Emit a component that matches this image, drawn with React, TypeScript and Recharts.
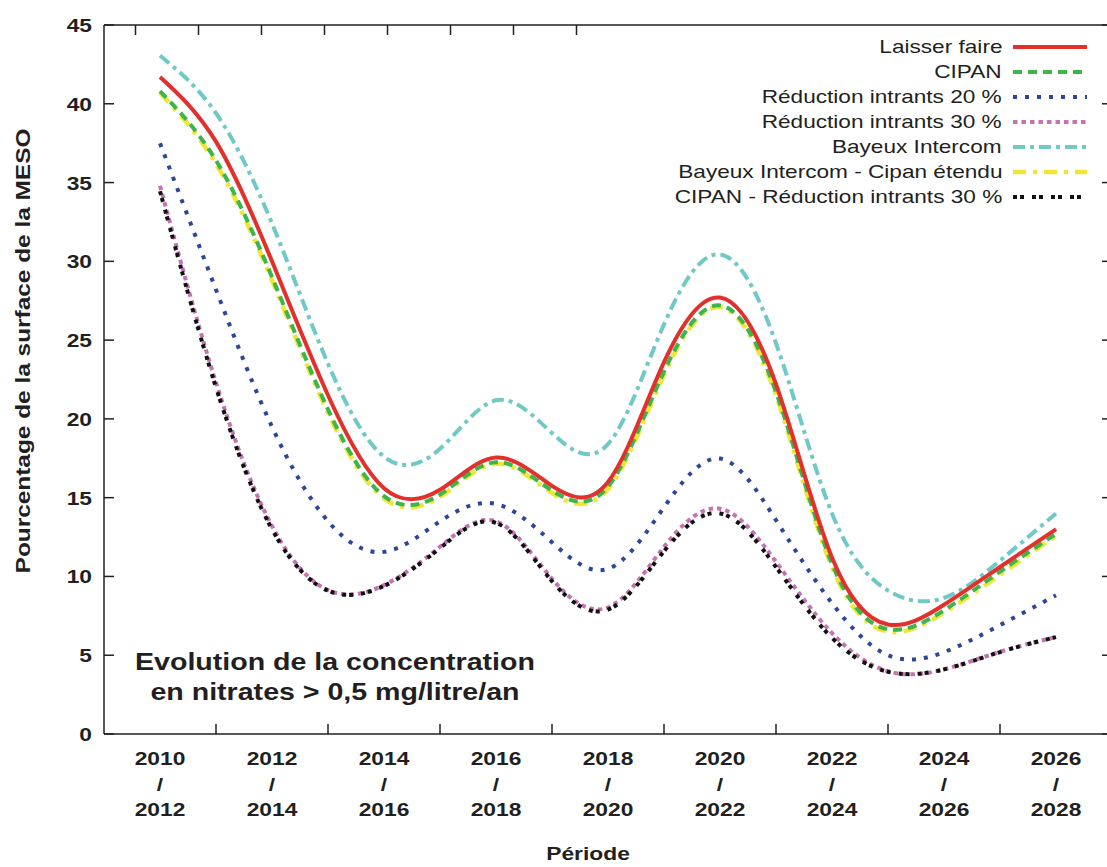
import React from 'react';
import { LineChart, Line, XAxis, YAxis, Legend } from 'recharts';

// x positions in period units (0 = 2010/2012 ... 8 = 2026/2028), read every half period
const xPositions = [0, 0.5, 1, 1.5, 2, 2.5, 3, 3.5, 4, 4.5, 5, 5.5, 6, 6.5, 7, 7.5, 8];
const periodStart = ['2010', '2012', '2014', '2016', '2018', '2020', '2022', '2024', '2026'];
const periodEnd = ['2012', '2014', '2016', '2018', '2020', '2022', '2024', '2026', '2028'];
const yTicks = [0, 5, 10, 15, 20, 25, 30, 35, 40, 45];
const bottomTicks = [0, 0.5, 1, 1.5, 2, 2.5, 3, 3.5, 4, 4.5, 5, 5.5, 6, 6.5, 7, 7.5, 8];
const innerTicks = [0.5, 1.5, 2.5, 3.5, 4.5, 5.5, 6.5, 7.5];

const laisserFaire = [41.7, 37.6, 30.0, 21.5, 15.6, 15.5, 17.55, 15.75, 16.0, 23.6, 27.7, 22.2, 11.2, 6.95, 8.2, 10.6, 13.0];
const cipan = [40.8, 36.4, 29.0, 20.6, 15.1, 15.2, 17.25, 15.45, 15.7, 23.0, 27.2, 21.7, 10.8, 6.65, 7.85, 10.3, 12.7];
const reduction20 = [37.5, 28.2, 19.5, 13.5, 11.56, 13.5, 14.6, 12.17, 10.48, 14.39, 17.48, 13.57, 8.3, 5.0, 5.2, 6.91, 8.8];
const reduction30 = [34.8, 22.3, 13.2, 9.13, 9.45, 11.88, 13.5, 9.85, 8.03, 11.88, 14.3, 10.93, 6.4, 3.98, 4.1, 5.22, 6.15];
const bayeux = [43.06, 39.4, 32.4, 23.5, 17.6, 18.1, 21.18, 19.1, 18.4, 26.0, 30.44, 24.8, 14.0, 9.1, 8.64, 11.0, 14.0];
const bayeuxCipan = [40.7, 36.2, 28.8, 20.4, 14.95, 15.05, 17.15, 15.3, 15.55, 22.8, 27.1, 21.5, 10.6, 6.5, 7.7, 10.1, 12.6];
const cipanReduction30 = [34.45, 22.0, 13.0, 9.1, 9.4, 11.8, 13.4, 9.7, 7.9, 11.6, 14.0, 10.6, 6.1, 3.95, 4.1, 5.2, 6.15];

const data = xPositions.map((x, k) => ({
  x,
  laisserFaire: laisserFaire[k],
  cipan: cipan[k],
  reduction20: reduction20[k],
  reduction30: reduction30[k],
  bayeux: bayeux[k],
  bayeuxCipan: bayeuxCipan[k],
  cipanReduction30: cipanReduction30[k],
}));

const FONT = '"Liberation Sans", Arial, Helvetica, sans-serif';
const INK = '#231f20';
const STRETCH = 1.2;

type SeriesStyle = { key: string; name: string; color: string; dash?: string; width: number };

const legendOrder: SeriesStyle[] = [
  { key: 'laisserFaire', name: 'Laisser faire', color: '#e2302c', width: 4 },
  { key: 'cipan', name: 'CIPAN', color: '#3db54a', dash: '9 6', width: 4 },
  { key: 'reduction20', name: 'Réduction intrants 20 %', color: '#2d4697', dash: '4 8', width: 4 },
  { key: 'reduction30', name: 'Réduction intrants 30 %', color: '#c473b5', dash: '4.5 4', width: 4 },
  { key: 'bayeux', name: 'Bayeux Intercom', color: '#70c9c7', dash: '12 5 4 5', width: 4 },
  { key: 'bayeuxCipan', name: 'Bayeux Intercom - Cipan étendu', color: '#efe636', dash: '13 7 4 7', width: 4.5 },
  { key: 'cipanReduction30', name: 'CIPAN - Réduction intrants 30 %', color: '#111111', dash: '4 3 4 8', width: 4 },
];

const drawOrder = ['bayeux', 'bayeuxCipan', 'cipan', 'laisserFaire', 'reduction20', 'reduction30', 'cipanReduction30'];

const StretchText = ({ x, y, anchor, children, size = 19 }: any) => (
  <text
    transform={`translate(${x},${y}) scale(${STRETCH},1)`}
    x={0}
    y={0}
    textAnchor={anchor}
    fontFamily={FONT}
    fontWeight="bold"
    fontSize={size}
    fill={INK}
  >
    {children}
  </text>
);

const BottomTick = (props: any) => {
  const { x, y, payload } = props;
  const v = payload.value as number;
  if (Number.isInteger(v)) {
    return (
      <g>
        <StretchText x={x} y={y + 31} anchor="middle">{periodStart[v]}</StretchText>
        <StretchText x={x} y={y + 57} anchor="middle">/</StretchText>
        <StretchText x={x} y={y + 82} anchor="middle">{periodEnd[v]}</StretchText>
      </g>
    );
  }
  return <line x1={x} y1={y} x2={x} y2={y - 10} stroke={INK} strokeWidth={1.5} />;
};

const TopTick = (props: any) => {
  const { x, y } = props;
  return <line x1={x} y1={y} x2={x} y2={y + 10} stroke={INK} strokeWidth={1.5} />;
};

const LeftTick = (props: any) => {
  const { x, y, payload } = props;
  return (
    <g>
      <line x1={x} y1={y} x2={x + 10} y2={y} stroke={INK} strokeWidth={1.5} />
      <StretchText x={x - 12} y={y + 7} anchor="end">{payload.value}</StretchText>
    </g>
  );
};

const RightTick = (props: any) => {
  const { x, y } = props;
  return <line x1={x} y1={y} x2={x - 10} y2={y} stroke={INK} strokeWidth={1.5} />;
};

const LegendContent = () => (
  <div style={{ fontFamily: FONT, fontSize: 19, color: INK }}>
    {legendOrder.map((s) => (
      <div
        key={s.key}
        style={{ display: 'flex', alignItems: 'center', justifyContent: 'flex-end', height: 25 }}
      >
        <span
          style={{
            whiteSpace: 'nowrap',
            lineHeight: '25px',
            display: 'inline-block',
            transform: 'scaleX(1.19)',
            transformOrigin: '100% 50%',
          }}
        >
          {s.name}
        </span>
        <svg width={74} height={10} style={{ marginLeft: 11, display: 'block' }}>
          <line x1={0} y1={5} x2={74} y2={5} stroke={s.color} strokeWidth={s.width} strokeDasharray={s.dash} />
        </svg>
      </div>
    ))}
  </div>
);

export default function App() {
  const styleMap: Record<string, SeriesStyle> = {};
  legendOrder.forEach((s) => (styleMap[s.key] = s));
  return (
    <div
      style={{
        position: 'fixed',
        left: 0,
        top: 0,
        width: 1107,
        height: 867,
        overflow: 'hidden',
        background: '#fff',
      }}
    >
      <LineChart width={1130} height={867} data={data} margin={{ top: 24, right: 17, bottom: 0, left: 0 }}>
        <XAxis
          xAxisId="b"
          dataKey="x"
          type="number"
          domain={[-0.5, 8.5]}
          allowDataOverflow
          ticks={bottomTicks}
          interval={0}
          tick={<BottomTick />}
          tickLine={false}
          tickSize={0}
          tickMargin={0}
          height={133}
          axisLine={{ stroke: INK, strokeWidth: 1.5 }}
        />
        <XAxis
          xAxisId="t"
          orientation="top"
          type="number"
          domain={[-0.5, 8.5]}
          allowDataOverflow
          ticks={innerTicks}
          interval={0}
          tick={<TopTick />}
          tickLine={false}
          tickSize={0}
          tickMargin={0}
          height={1}
          axisLine={{ stroke: INK, strokeWidth: 1.5 }}
        />
        <YAxis
          yAxisId="l"
          type="number"
          domain={[0, 45]}
          allowDataOverflow
          ticks={yTicks}
          interval={0}
          tick={<LeftTick />}
          tickLine={false}
          tickSize={0}
          tickMargin={0}
          width={104}
          axisLine={{ stroke: INK, strokeWidth: 1.5 }}
        />
        <YAxis
          yAxisId="r"
          orientation="right"
          type="number"
          domain={[0, 45]}
          allowDataOverflow
          ticks={yTicks}
          interval={0}
          tick={<RightTick />}
          tickLine={false}
          tickSize={0}
          tickMargin={0}
          width={1}
          axisLine={{ stroke: INK, strokeWidth: 1.5 }}
        />
        <Legend
          layout="vertical"
          align="center"
          verticalAlign="middle"
          content={<LegendContent />}
          wrapperStyle={{ position: 'absolute', left: 560, top: 34, width: 527, height: 175 }}
        />
        {drawOrder.map((k) => {
          const s = styleMap[k];
          return (
            <Line
              key={k}
              xAxisId="b"
              yAxisId="l"
              type="natural"
              dataKey={k}
              name={s.name}
              stroke={s.color}
              strokeWidth={s.width}
              strokeDasharray={s.dash}
              dot={false}
              activeDot={false}
              isAnimationActive={false}
            />
          );
        })}
      </LineChart>
      <div style={{ position: 'absolute', left: 23, top: 351, width: 0, height: 0, transform: 'rotate(-90deg)' }}>
        <span
          style={{
            position: 'absolute',
            left: 0,
            top: 0,
            transform: 'translate(-50%, -50%) scaleX(1.22)',
            whiteSpace: 'nowrap',
            fontFamily: FONT,
            fontWeight: 'bold',
            fontSize: 20,
            color: INK,
            lineHeight: '22px',
          }}
        >
          Pourcentage de la surface de la MESO
        </span>
      </div>
      <div
        style={{
          position: 'absolute',
          left: 588,
          top: 842,
          transform: 'translateX(-50%) scaleX(1.2)',
          whiteSpace: 'nowrap',
          fontFamily: FONT,
          fontWeight: 'bold',
          fontSize: 19,
          color: INK,
          lineHeight: '24px',
        }}
      >
        Période
      </div>
      <div
        style={{
          position: 'absolute',
          left: 335,
          top: 647,
          transform: 'translateX(-50%) scaleX(1.19)',
          whiteSpace: 'nowrap',
          textAlign: 'center',
          fontFamily: FONT,
          fontWeight: 'bold',
          fontSize: 24,
          color: INK,
          lineHeight: '30px',
        }}
      >
        Evolution de la concentration
        <br />
        en nitrates &gt; 0,5 mg/litre/an
      </div>
    </div>
  );
}
